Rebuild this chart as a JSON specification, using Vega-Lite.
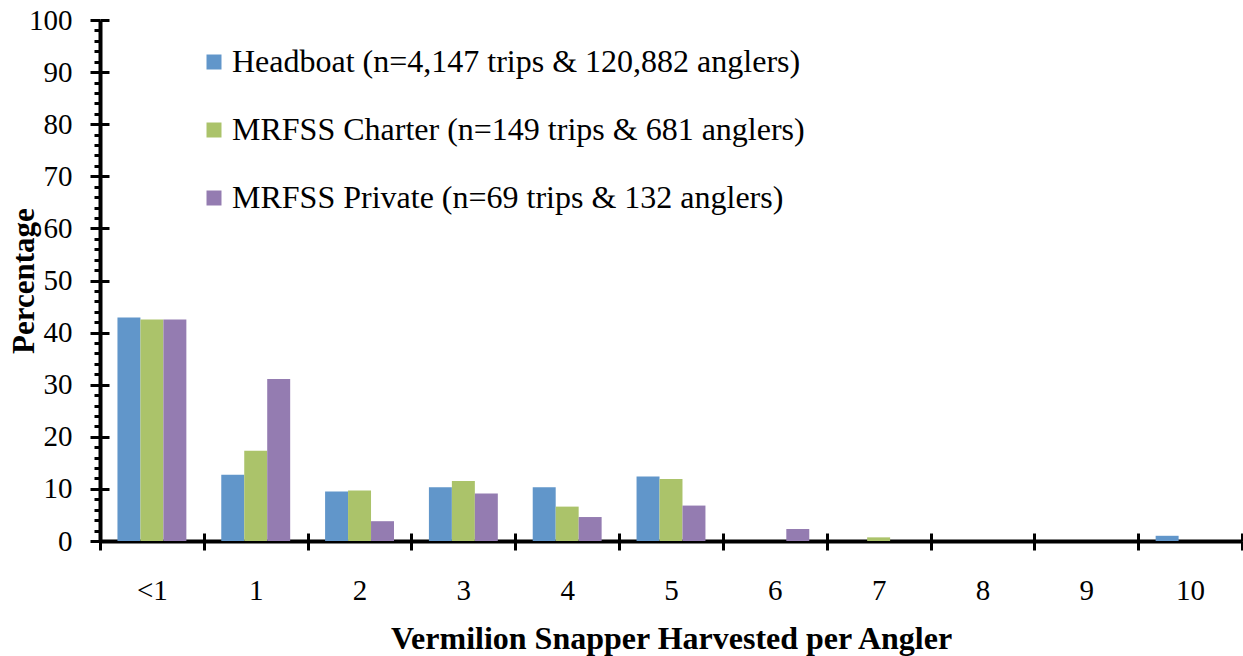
{
  "$schema": "https://vega.github.io/schema/vega-lite/v6.json",
  "width": 1142,
  "height": 521,
  "autosize": {"type": "none"},
  "padding": {"left": 100, "top": 20, "right": 1, "bottom": 115},
  "background": "white",
  "config": {"view": {"stroke": null}, "font": "Liberation Serif"},
  "data": {
    "values": [
      {"cat": "<1", "series": "Headboat (n=4,147 trips & 120,882 anglers)", "value": 42.9},
      {"cat": "<1", "series": "MRFSS Charter (n=149 trips & 681 anglers)", "value": 42.5},
      {"cat": "<1", "series": "MRFSS Private (n=69 trips & 132 anglers)", "value": 42.5},
      {"cat": "1", "series": "Headboat (n=4,147 trips & 120,882 anglers)", "value": 12.7},
      {"cat": "1", "series": "MRFSS Charter (n=149 trips & 681 anglers)", "value": 17.3},
      {"cat": "1", "series": "MRFSS Private (n=69 trips & 132 anglers)", "value": 31.1},
      {"cat": "2", "series": "Headboat (n=4,147 trips & 120,882 anglers)", "value": 9.5},
      {"cat": "2", "series": "MRFSS Charter (n=149 trips & 681 anglers)", "value": 9.7},
      {"cat": "2", "series": "MRFSS Private (n=69 trips & 132 anglers)", "value": 3.8},
      {"cat": "3", "series": "Headboat (n=4,147 trips & 120,882 anglers)", "value": 10.3},
      {"cat": "3", "series": "MRFSS Charter (n=149 trips & 681 anglers)", "value": 11.5},
      {"cat": "3", "series": "MRFSS Private (n=69 trips & 132 anglers)", "value": 9.1},
      {"cat": "4", "series": "Headboat (n=4,147 trips & 120,882 anglers)", "value": 10.3},
      {"cat": "4", "series": "MRFSS Charter (n=149 trips & 681 anglers)", "value": 6.6},
      {"cat": "4", "series": "MRFSS Private (n=69 trips & 132 anglers)", "value": 4.6},
      {"cat": "5", "series": "Headboat (n=4,147 trips & 120,882 anglers)", "value": 12.4},
      {"cat": "5", "series": "MRFSS Charter (n=149 trips & 681 anglers)", "value": 11.9},
      {"cat": "5", "series": "MRFSS Private (n=69 trips & 132 anglers)", "value": 6.8},
      {"cat": "6", "series": "Headboat (n=4,147 trips & 120,882 anglers)", "value": 0},
      {"cat": "6", "series": "MRFSS Charter (n=149 trips & 681 anglers)", "value": 0},
      {"cat": "6", "series": "MRFSS Private (n=69 trips & 132 anglers)", "value": 2.3},
      {"cat": "7", "series": "Headboat (n=4,147 trips & 120,882 anglers)", "value": 0},
      {"cat": "7", "series": "MRFSS Charter (n=149 trips & 681 anglers)", "value": 0.7},
      {"cat": "7", "series": "MRFSS Private (n=69 trips & 132 anglers)", "value": 0},
      {"cat": "8", "series": "Headboat (n=4,147 trips & 120,882 anglers)", "value": 0},
      {"cat": "8", "series": "MRFSS Charter (n=149 trips & 681 anglers)", "value": 0},
      {"cat": "8", "series": "MRFSS Private (n=69 trips & 132 anglers)", "value": 0},
      {"cat": "9", "series": "Headboat (n=4,147 trips & 120,882 anglers)", "value": 0},
      {"cat": "9", "series": "MRFSS Charter (n=149 trips & 681 anglers)", "value": 0},
      {"cat": "9", "series": "MRFSS Private (n=69 trips & 132 anglers)", "value": 0},
      {"cat": "10", "series": "Headboat (n=4,147 trips & 120,882 anglers)", "value": 1.0},
      {"cat": "10", "series": "MRFSS Charter (n=149 trips & 681 anglers)", "value": 0},
      {"cat": "10", "series": "MRFSS Private (n=69 trips & 132 anglers)", "value": 0}
    ]
  },
  "resolve": {"axis": {"x": "independent", "y": "independent"}},
  "layer": [
    {
      "mark": {"type": "bar"},
      "encoding": {
        "x": {
          "field": "cat",
          "type": "nominal",
          "sort": ["<1", "1", "2", "3", "4", "5", "6", "7", "8", "9", "10"],
          "scale": {"paddingInner": 0, "paddingOuter": 0},
          "axis": {
            "orient": "bottom",
            "title": "Vermilion Snapper Harvested per Angler",
            "labelAngle": 0,
            "tickBand": "extent",
            "domainColor": "black",
            "domainWidth": 4,
            "tickColor": "black",
            "tickWidth": 3,
            "tickSize": 9,
            "labelFont": "Liberation Serif",
            "labelFontSize": 29,
            "labelColor": "black",
            "labelPadding": 26,
            "titleFont": "Liberation Serif",
            "titleFontSize": 32,
            "titleFontWeight": "bold",
            "titleColor": "black",
            "titlePadding": 18
          }
        },
        "xOffset": {
          "field": "series",
          "type": "nominal",
          "sort": ["Headboat (n=4,147 trips & 120,882 anglers)", "MRFSS Charter (n=149 trips & 681 anglers)", "MRFSS Private (n=69 trips & 132 anglers)"],
          "scale": {"paddingInner": 0, "paddingOuter": 0.76}
        },
        "y": {
          "field": "value",
          "type": "quantitative",
          "scale": {"domain": [0, 100], "nice": false},
          "axis": {
            "orient": "left",
            "title": "Percentage",
            "grid": false,
            "values": [0, 2, 4, 6, 8, 10, 12, 14, 16, 18, 20, 22, 24, 26, 28, 30, 32, 34, 36, 38, 40, 42, 44, 46, 48, 50, 52, 54, 56, 58, 60, 62, 64, 66, 68, 70, 72, 74, 76, 78, 80, 82, 84, 86, 88, 90, 92, 94, 96, 98, 100],
            "labelExpr": "datum.value % 10 === 0 ? datum.label : ''",
            "tickSize": {"condition": {"test": "datum.value % 10 === 0", "value": 10}, "value": 6},
            "tickWidth": 3,
            "tickColor": "black",
            "domainColor": "black",
            "domainWidth": 4,
            "labelFont": "Liberation Serif",
            "labelFontSize": 29,
            "labelColor": "black",
            "labelPadding": 18,
            "labelOverlap": false,
            "titleFont": "Liberation Serif",
            "titleFontSize": 31,
            "titleFontWeight": "bold",
            "titleColor": "black",
            "titlePadding": -12
          }
        },
        "color": {
          "field": "series",
          "type": "nominal",
          "sort": ["Headboat (n=4,147 trips & 120,882 anglers)", "MRFSS Charter (n=149 trips & 681 anglers)", "MRFSS Private (n=69 trips & 132 anglers)"],
          "scale": {"range": ["#6196CA", "#ABC36A", "#947CB1"]},
          "legend": {
            "title": null,
            "orient": "none",
            "legendX": 98,
            "legendY": 26,
            "symbolType": "square",
            "symbolSize": 225,
            "symbolStrokeWidth": 0,
            "labelFont": "Liberation Serif",
            "labelFontSize": 32,
            "labelColor": "black",
            "labelOffset": 2,
            "labelLimit": 900,
            "rowPadding": 36
          }
        }
      }
    },
    {
      "mark": {"type": "bar", "opacity": 0},
      "encoding": {
        "x": {
          "field": "cat",
          "type": "nominal",
          "sort": ["<1", "1", "2", "3", "4", "5", "6", "7", "8", "9", "10"],
          "axis": {
            "orient": "bottom",
            "offset": -8,
            "title": null,
            "labels": false,
            "domain": false,
            "tickBand": "extent",
            "tickColor": "black",
            "tickWidth": 3,
            "tickSize": 8
          }
        },
        "xOffset": {
          "field": "series",
          "type": "nominal",
          "sort": ["Headboat (n=4,147 trips & 120,882 anglers)", "MRFSS Charter (n=149 trips & 681 anglers)", "MRFSS Private (n=69 trips & 132 anglers)"]
        },
        "y": {
          "field": "value",
          "type": "quantitative",
          "axis": {
            "orient": "left",
            "offset": -9,
            "title": null,
            "labels": false,
            "domain": false,
            "grid": false,
            "values": [0, 10, 20, 30, 40, 50, 60, 70, 80, 90, 100],
            "tickColor": "black",
            "tickWidth": 3,
            "tickSize": 9
          }
        }
      }
    }
  ]
}
